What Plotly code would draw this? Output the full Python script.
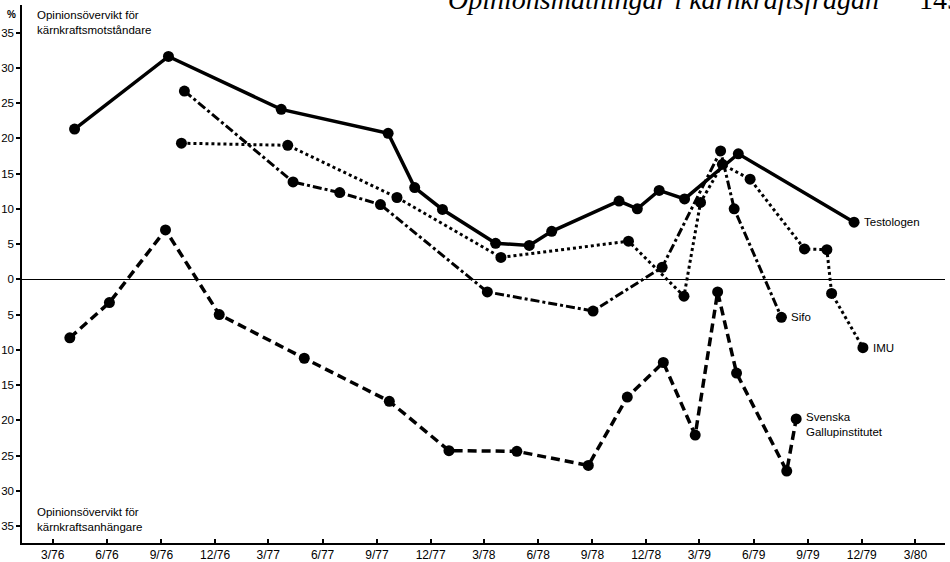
import plotly.graph_objects as go

# Opinionsövervikt (procentenheter); positivt = övervikt för kärnkraftsmotståndare
testologen_datum = ["1976-04-07", "1976-09-13", "1977-03-23", "1977-09-20", "1977-11-04",
                    "1977-12-21", "1978-03-21", "1978-05-17", "1978-06-24", "1978-10-16",
                    "1978-11-16", "1978-12-23", "1979-02-04", "1979-05-06", "1979-11-18"]
testologen_varde = [21.3, 31.6, 24.1, 20.7, 13.0, 9.9, 5.1, 4.8, 6.8, 11.1, 10.0, 12.6, 11.4, 17.8, 8.1]

sifo_datum = ["1976-10-10", "1977-04-12", "1977-06-30", "1977-09-07", "1978-03-07",
              "1978-09-02", "1978-12-28", "1979-04-06", "1979-04-29", "1979-07-18"]
sifo_varde = [26.7, 13.8, 12.3, 10.6, -1.8, -4.5, 1.7, 18.2, 10.0, -5.4]

imu_datum = ["1976-10-05", "1977-04-03", "1977-10-05", "1978-03-30", "1978-11-01",
             "1979-02-03", "1979-03-03", "1979-04-09", "1979-05-26", "1979-08-26",
             "1979-10-03", "1979-10-11", "1979-12-03"]
imu_varde = [19.3, 19.0, 11.6, 3.1, 5.4, -2.4, 10.9, 16.3, 14.2, 4.3, 4.2, -2.0, -9.7]

gallup_datum = ["1976-03-30", "1976-06-05", "1976-09-08", "1976-12-08", "1977-05-01",
                "1977-09-22", "1978-01-01", "1978-04-26", "1978-08-25", "1978-10-30",
                "1978-12-30", "1979-02-22", "1979-04-01", "1979-05-03", "1979-07-27",
                "1979-08-12"]
gallup_varde = [-8.3, -3.3, 7.0, -5.0, -11.2, -17.3, -24.3, -24.4, -26.4, -16.7,
                -11.8, -22.1, -1.8, -13.3, -27.2, -19.8]

x_ticks = ["1976-03-01", "1976-06-01", "1976-09-01", "1976-12-01", "1977-03-01",
           "1977-06-01", "1977-09-01", "1977-12-01", "1978-03-01", "1978-06-01",
           "1978-09-01", "1978-12-01", "1979-03-01", "1979-06-01", "1979-09-01",
           "1979-12-01", "1980-03-01"]
x_labels = ["3/76", "6/76", "9/76", "12/76", "3/77", "6/77", "9/77", "12/77", "3/78",
            "6/78", "9/78", "12/78", "3/79", "6/79", "9/79", "12/79", "3/80"]
y_ticks = [35, 30, 25, 20, 15, 10, 5, 0, -5, -10, -15, -20, -25, -30, -35]

serier = [
    ("Testologen", testologen_datum, testologen_varde),
    ("Sifo", sifo_datum, sifo_varde),
    ("IMU", imu_datum, imu_varde),
    ("Svenska<br>Gallupinstitutet", gallup_datum, gallup_varde),
]
# linjestil, linjebredd, förskjutning av etiketten
stil = {
    "Testologen": ("solid", 3.5, 0),
    "Sifo": ("9px,3px,3px,3px", 3, 0),
    "IMU": ("3px,3px", 3, 0),
    "Svenska<br>Gallupinstitutet": ("9px,5px", 3.5, -6),
}

x_range = ["1976-01-09", "1980-04-20"]
y_range = [-37.4, 38.9]
font = "Liberation Sans, Arial, sans-serif"
serif = "Liberation Serif, Times New Roman, serif"

fig = go.Figure()
annotations = []
for namn, datum, varde in serier:
    dash, bredd, yshift = stil[namn]
    fig.add_trace(go.Scatter(
        x=datum, y=varde, mode="lines+markers", name=namn,
        line=dict(color="black", width=bredd, dash=dash),
        marker=dict(color="black", size=11),
        showlegend=False, cliponaxis=False,
    ))
    annotations.append(dict(
        x=datum[-1], y=varde[-1], xref="x", yref="y", text=namn, showarrow=False,
        xanchor="left", yanchor="middle", xshift=8, yshift=yshift, align="left",
        font=dict(family=font, size=11.5, color="black"),
    ))

annotations += [
    dict(x=0.0143, y=0.968, xref="paper", yref="paper", xanchor="left", yanchor="middle",
         text="Opinionsövervikt för<br>kärnkraftsmotståndare", showarrow=False, align="left",
         font=dict(family=font, size=11.5, color="black")),
    dict(x=0.0143, y=0.043, xref="paper", yref="paper", xanchor="left", yanchor="middle",
         text="Opinionsövervikt för<br>kärnkraftsanhängare", showarrow=False, align="left",
         font=dict(family=font, size=11.5, color="black")),
    dict(x=-0.011, y=0.982, xref="paper", yref="paper", xanchor="center", yanchor="middle",
         text="<b>%</b>", showarrow=False, font=dict(family=font, size=10, color="black")),
    # sidhuvud från boken, avskuret i överkanten
    dict(x=0.4594, y=1.0093, xref="paper", yref="paper", xanchor="left", yanchor="middle",
         text="<i>Opinionsmätningar i kärnkraftsfrågan</i>", showarrow=False,
         font=dict(family=serif, size=28, color="black")),
    dict(x=0.9697, y=1.0093, xref="paper", yref="paper", xanchor="left", yanchor="middle",
         text="149", showarrow=False, font=dict(family=serif, size=28, color="black")),
]

fig.update_layout(
    width=950, height=562,
    margin=dict(l=22, r=5, t=5, b=19),
    plot_bgcolor="white", paper_bgcolor="white",
    xaxis=dict(
        type="date", range=x_range, tickvals=x_ticks, ticktext=x_labels, automargin=False,
        showgrid=False, zeroline=False, showline=True, linecolor="black", linewidth=1.5,
        ticks="inside", ticklen=4, tickwidth=1.5, tickcolor="black",
        tickfont=dict(family=font, size=12, color="black"),
    ),
    xaxis2=dict(
        type="date", range=x_range, tickvals=x_ticks, overlaying="x", anchor="y",
        showgrid=False, zeroline=False, showticklabels=False, automargin=False,
        ticks="outside", ticklen=3, tickwidth=1.5, tickcolor="black",
    ),
    yaxis=dict(
        range=y_range, tickvals=y_ticks, ticktext=[str(abs(v)) for v in y_ticks],
        automargin=False,
        showgrid=False, zeroline=True, zerolinecolor="black", zerolinewidth=1,
        showline=True, linecolor="black", linewidth=1.5,
        ticks="outside", ticklen=4, tickwidth=1.5, tickcolor="black",
        tickfont=dict(family=font, size=11.5, color="black"),
    ),
    yaxis2=dict(
        range=y_range, tickvals=y_ticks, overlaying="y", anchor="x", automargin=False,
        showgrid=False, zeroline=False, showticklabels=False,
        ticks="inside", ticklen=4, tickwidth=1.5, tickcolor="black",
    ),
    annotations=annotations,
)

# sidans standardmarginal (8 px) skulle annars flytta hela figuren
fig.write_html("out.html", config={"displayModeBar": False},
               post_script="document.body.style.margin = '0';")
